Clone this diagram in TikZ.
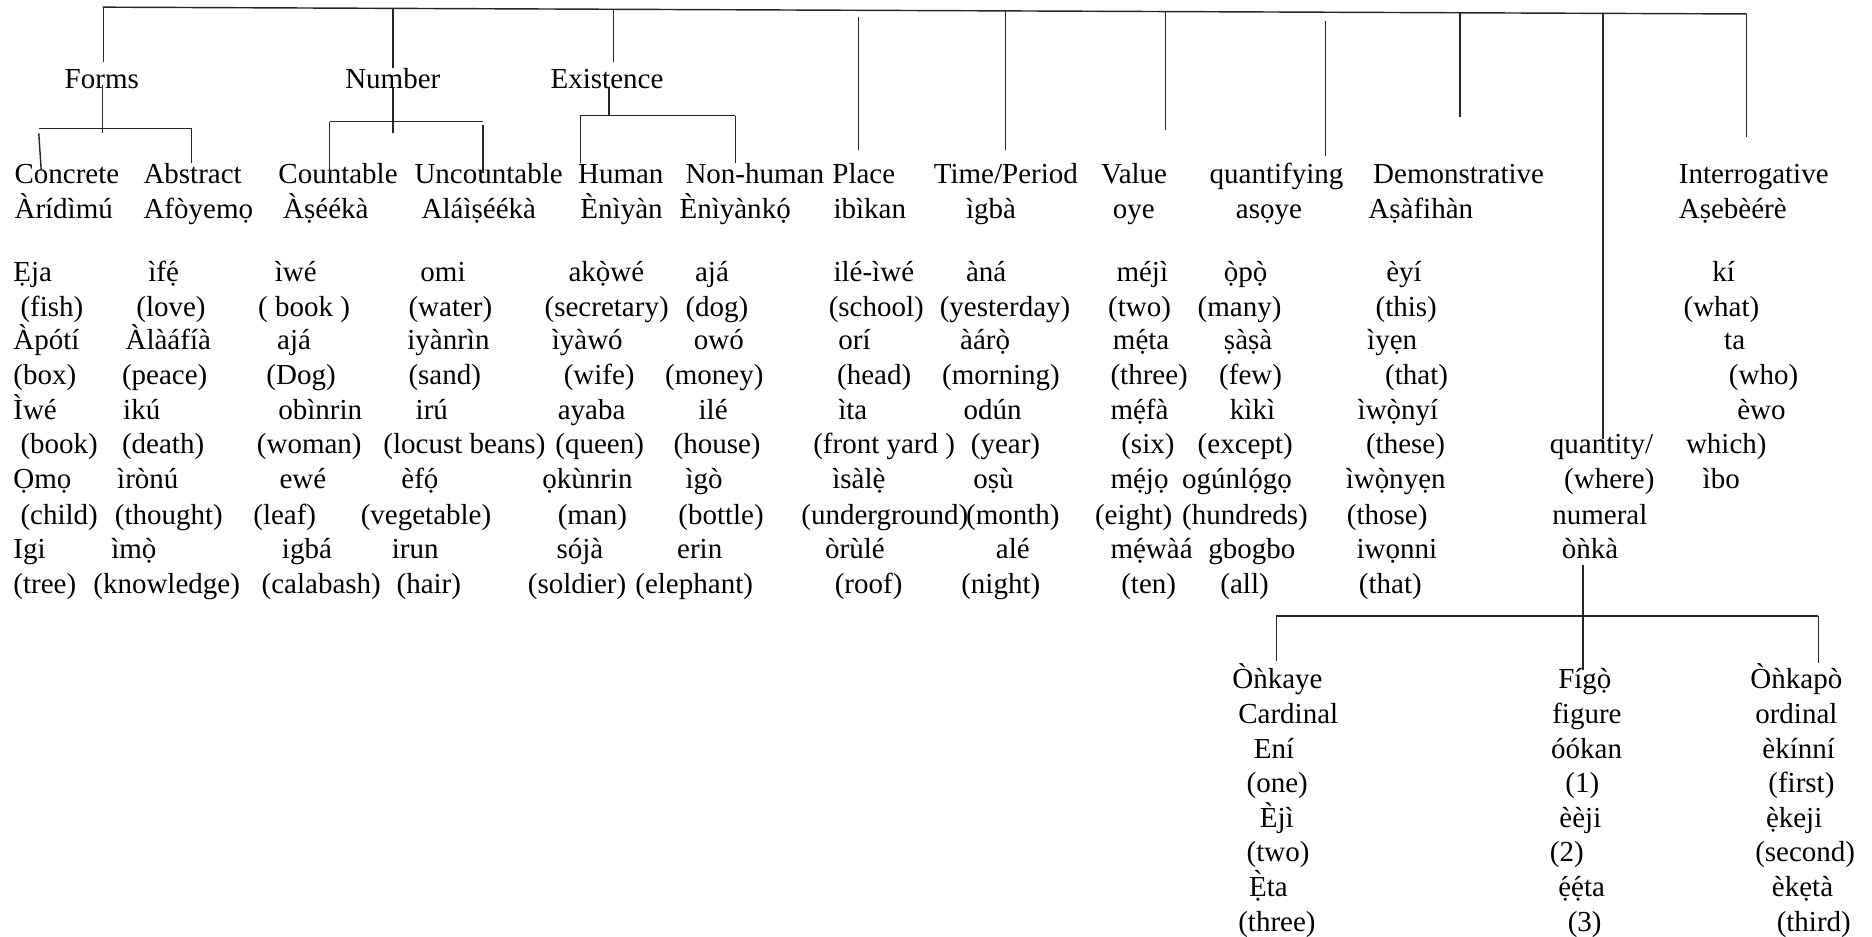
\documentclass[tikz,border=0pt]{standalone}
\usepackage{fontspec}
\setmainfont{Liberation Serif}[Ligatures=TeXOff]
% centred accents over letters with a dot below
\newcommand\ac[1]{\ooalign{#1\cr\hidewidth\char"00B4\hidewidth\cr}}
\newcommand\gr[1]{\ooalign{#1\cr\hidewidth\char"0060\hidewidth\cr}}
\newcommand\grU[1]{\ooalign{#1\cr\hidewidth\smash{\raisebox{0.2em}{\char"0060}}\hidewidth\cr}}
\begin{document}
\begin{tikzpicture}[x=1pt,y=-1pt,
  t/.style={inner sep=0pt, anchor=base west, font=\fontsize{24.3}{29}\selectfont},
  ln/.style={line width=1.2pt, draw=black!85}]
\useasboundingbox (0,0) rectangle (1568,784);
% ---------- texts ----------
\foreach \x/\y/\s [count=\i] in {
 54/66/Forms, 289/66/Number, 461/66/Existence,
 12/146/Concrete, 120/146/Abstract, 233/146/Countable, 347/146/Uncountable,
 484/146/Human, 574/146/Non-human, 697/146/Place, 782/146/{Time/Period},
 922/146/Value, 1013/146/quantifying, 1150/146/Demonstrative, 1406/146/Interrogative,
 12/175/Àrídìmú, 120/175/Afòyemọ, 237/175/Àṣéékà, 353/175/Aláìṣéékà,
 486/175/Ènìyàn, 569/175/{Ènìyànk\ac{ọ}}, 698/175/ibìkan, 809/175/ìgbà,
 932/175/oye, 1035/175/asọye, 1146/175/Aṣàfihàn, 1406/175/Aṣebèérè,
 11/228/Ẹja, 17/257/(fish), 11/285/Àpótí, 11/314/(box), 11/343/Ìwé,
 17/372/(book), 11/401/Ọmọ, 17/431/(child), 11/460/Igi, 11/489/(tree),
 124/228/{ìf\ac{ẹ}}, 114/257/(love), 105/285/Àlàáfíà, 102/314/(peace), 103/343/ikú,
 102/372/(death), 98/401/ìrònú, 96/431/(thought), 93/460/{ìm\gr{ọ}}, 78/489/(knowledge),
 230/228/ìwé, 216/257/{( book )}, 232/285/ajá, 223/314/(Dog), 233/343/obìnrin,
 215/372/(woman), 234/401/ewé, 212/431/(leaf), 236/460/igbá, 219/489/(calabash),
 352/228/omi, 342/257/(water), 341/285/iyànrìn, 342/314/(sand), 348/343/irú,
 321/372/(locust beans), 336/401/{èf\ac{ọ}}, 302/431/(vegetable), 328/460/irun, 332/489/(hair),
 476/228/{ak\gr{ọ}wé}, 456/257/(secretary), 462/285/ìyàwó, 472/314/(wife), 467/343/ayaba,
 465/372/(queen), 454/401/ọkùnrin, 467/431/(man), 466/460/sójà, 442/489/(soldier),
 582/228/ajá, 574/257/(dog), 581/285/owó, 557/314/(money), 585/343/ilé,
 564/372/(house), 574/401/ìgò, 568/431/(bottle), 567/460/erin, 532/489/(elephant),
 698/228/ilé-ìwé, 694/257/(school), 702/285/orí, 701/314/(head), 702/343/ìta,
 681/372/{(front yard )}, 697/401/{ìsàl\gr{ẹ}}, 671/431/(underground), 809/431/(month),
 691/460/òrùlé, 699/489/(roof),
 809/228/àná, 787/257/(yesterday), 804/285/{àár\gr{ọ}}, 789/314/(morning), 807/343/odún,
 813/372/(year), 815/401/oṣù, 834/460/alé, 805/489/(night),
 935/228/méjì, 928/257/(two), 932/285/{m\ac{ẹ}ta}, 930/314/(three), 930/343/{m\ac{ẹ}fà},
 939/372/(six), 930/401/{m\ac{ẹ}jọ}, 917/431/(eight), 930/460/{m\ac{ẹ}wàá}, 939/489/(ten),
 1025/228/{\gr{ọ}p\gr{ọ}}, 1003/257/(many), 1025/285/ṣàṣà, 1021/314/(few), 1030/343/kìkì,
 1003/372/(except), 990/401/{ogúnl\ac{ọ}gọ}, 990/431/(hundreds), 1012/460/gbogbo, 1022/489/(all),
 1161/228/èyí, 1152/257/(this), 1145/285/ìyẹn, 1160/314/(that), 1137/343/{ìw\gr{ọ}nyí},
 1144/372/(these), 1127/401/{ìw\gr{ọ}nyẹn}, 1128/431/(those), 1136/460/iwọnni, 1138/489/(that),
 1298/372/{quantity/}, 1310/401/(where), 1300/431/numeral, 1308/460/òǹkà,
 1434/228/kí, 1410/257/(what), 1444/285/ta, 1448/314/(who), 1455/343/èwo,
 1412/372/which), 1426/401/ìbo,
 1032/569/Òǹkaye, 1037/598/Cardinal, 1050/627/Ení, 1044/656/(one), 1055/685/Èjì,
 1044/714/(two), 1046/743/{\grU{Ẹ}ta}, 1037/772/(three),
 1305/569/{Fíg\gr{ọ}}, 1300/598/figure, 1299/627/óókan, 1311/656/(1), 1306/685/èèji,
 1298/714/(2), 1305/743/{\ac{ẹ}\ac{ẹ}ta}, 1313/772/(3),
 1466/569/Òǹkapò, 1470/598/ordinal, 1476/627/èkínní, 1481/656/(first), 1479/685/{\gr{ẹ}keji},
 1470/714/(second), 1484/743/èkẹtà, 1488/772/(third)}
 { \node[t] (w\i) at (\x,{\y+8}) {\s}; }
% ---------- connector points ----------
\foreach \n/\x/\y in {
 tl/86/6, tr/1463/11.7,
 fA/86.5/6, fB/86.5/52, nA/329/7, nB/329/57, eA/514/8, eB/514/52,
 pA/719/14, pB/719/125.6, tA/842/9.5, tB/842/125.6, vA/976/9.8, vB/976/108.8,
 qA/1110/18, qB/1110/131, dA/1223/10.7, dB/1223/97.7, kA/1342.5/11.2, kB/1342.5/368,
 iB/1463/114.5,
 fC/86/71, fD/86/111, fL/32.5/107.5, fR/160.5/107.5, fL1/32.5/111.7, fL2/34.5/142.4, fR2/160.5/136.8,
 nC/329/74, nD/329/111, nL/276/101.9, nR/404.7/101.9, nL2/276/145, nR1/404.7/104.7, nR2/404.7/145,
 eC/510/72.6, eD/510/96.9, eL/486/96.9, eR/616/96.9, eL2/486/136.8, eR2/616/136.8,
 mA/1326/473, mB/1326/561, mL/1069/516, mR/1523/516, mL2/1069/554, mR2/1523/555}
 { \coordinate (\n) at (\x,\y); }
% ---------- connectors ----------
\draw[ln] (tl) -- (tr);
\draw[ln] (fA) -- (fB);
\draw[ln] (nA) -- (nB);
\draw[ln] (eA) -- (eB);
\draw[ln] (pA) -- (pB);
\draw[ln] (tA) -- (tB);
\draw[ln] (vA) -- (vB);
\draw[ln] (qA) -- (qB);
\draw[ln] (dA) -- (dB);
\draw[ln] (kA) -- (kB);
\draw[ln] (tr) -- (iB);
\draw[ln] (fC) -- (fD);
\draw[ln] (fL) -- (fR);
\draw[ln] (fL1) -- (fL2);
\draw[ln] (fR) -- (fR2);
\draw[ln] (nC) -- (nD);
\draw[ln] (nL) -- (nR);
\draw[ln] (nL) -- (nL2);
\draw[ln] (nR1) -- (nR2);
\draw[ln] (eC) -- (eD);
\draw[ln] (eL) -- (eR);
\draw[ln] (eL) -- (eL2);
\draw[ln] (eR) -- (eR2);
\draw[ln] (mA) -- (mB);
\draw[ln] (mL) -- (mR);
\draw[ln] (mL) -- (mL2);
\draw[ln] (mR) -- (mR2);
\end{tikzpicture}
\end{document}
